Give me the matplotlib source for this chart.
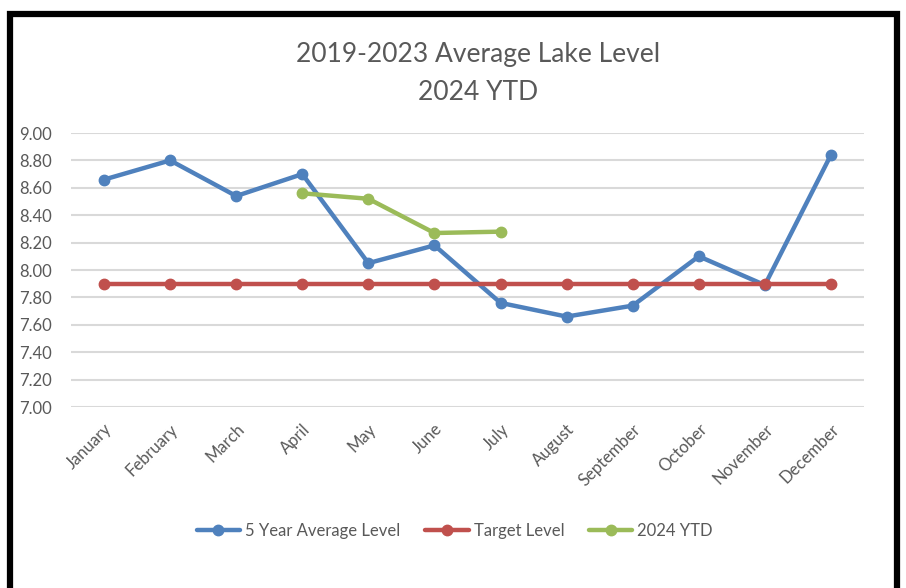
import matplotlib.pyplot as plt
from matplotlib.patches import Rectangle

plt.rcParams['font.family'] = ['Lato', 'DejaVu Sans']

months = ["January", "February", "March", "April", "May", "June", "July",
          "August", "September", "October", "November", "December"]
avg_level = [8.66, 8.80, 8.54, 8.70, 8.05, 8.18, 7.76, 7.66, 7.74, 8.10, 7.89, 8.84]
target_level = [7.90] * 12
ytd_months = ["April", "May", "June", "July"]
ytd_level = [8.56, 8.52, 8.27, 8.28]
y_ticks = [7.0, 7.2, 7.4, 7.6, 7.8, 8.0, 8.2, 8.4, 8.6, 8.8, 9.0]

grey = "#595959"

fig = plt.figure(figsize=(9.06, 5.88), dpi=100)
ax = fig.add_axes([0.0784, 0.3078, 0.8752, 0.466])

x_all = list(range(len(months)))
x_ytd = [months.index(m) for m in ytd_months]

ax.plot(x_all, avg_level, color="#4F81BD", lw=3.2, marker="o", ms=7.5,
        label="5 Year Average Level", zorder=3, solid_capstyle="round")
ax.plot(x_all, target_level, color="#C0504D", lw=3.2, marker="o", ms=7.5,
        label="Target Level", zorder=3, solid_capstyle="round")
ax.plot(x_ytd, ytd_level, color="#9BBB59", lw=3.2, marker="o", ms=7.5,
        label="2024 YTD", zorder=3, solid_capstyle="round")

ax.set_xlim(-0.5, len(months) - 0.5)
ax.set_ylim(7.0, 9.0)
ax.set_yticks(y_ticks)
ax.set_yticklabels([f"{v:.2f}" for v in y_ticks])
ax.set_xticks(x_all)
ax.set_xticklabels(months, rotation=45, ha="right", rotation_mode="anchor")
ax.tick_params(axis="both", length=0, labelsize=12, labelcolor=grey)
ax.tick_params(axis="y", pad=14)
ax.tick_params(axis="x", pad=10)
ax.grid(axis="y", color="#D9D9D9", lw=1.5)
ax.set_axisbelow(True)
for s in ax.spines.values():
    s.set_visible(False)

fig.text(0.528, 0.907, "2019-2023 Average Lake Level", ha="center", va="center",
         fontsize=19, color=grey)
fig.text(0.528, 0.843, "2024 YTD", ha="center", va="center",
         fontsize=19, color=grey)

leg = fig.legend(loc="center", bbox_to_anchor=(0.502, 0.097), ncol=3, frameon=False,
                 fontsize=12, handlelength=2.6, columnspacing=1.5, handletextpad=0.3)
for t in leg.get_texts():
    t.set_color(grey)

# black frame around the chart
fig.add_artist(Rectangle((0.0105, -0.05), 0.98, 1.026, transform=fig.transFigure,
                         fill=False, edgecolor="black", lw=4.5, clip_on=False))

fig.savefig("out.png", dpi=100)
